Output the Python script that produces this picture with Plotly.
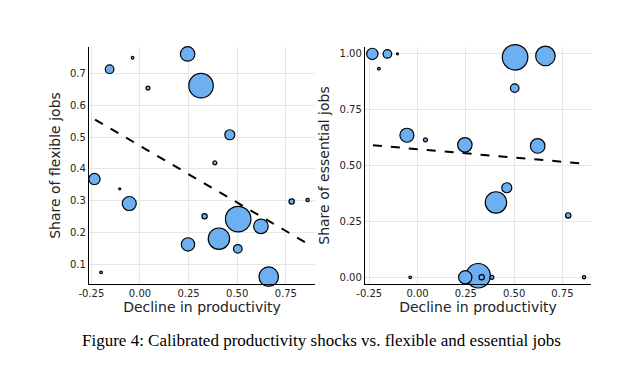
import plotly.graph_objects as go
from plotly.subplots import make_subplots

# Industry-level data (same industries in both panels)
decline = [0.245, -0.156, -0.038, 0.314, 0.041, 0.462, 0.385, -0.234, -0.104, -0.055,
           0.332, 0.505, 0.622, 0.780, 0.862, 0.247, 0.406, 0.503, 0.662, -0.200]
flexible = [0.763, 0.715, 0.751, 0.663, 0.655, 0.508, 0.419, 0.368, 0.337, 0.291,
            0.251, 0.242, 0.219, 0.297, 0.302, 0.162, 0.180, 0.148, 0.060, 0.074]
essential = [0.593, 1.000, 0.000, 0.007, 0.615, 0.401, 0.000, 1.000, 1.000, 0.636,
             0.000, 0.985, 0.588, 0.277, 0.000, 0.000, 0.335, 0.847, 0.991, 0.934]
weight = [14.5, 8.6, 2.6, 24.5, 4.0, 10.0, 4.0, 11.3, 2.0, 14.0,
          5.3, 25.5, 14.6, 5.3, 3.3, 13.3, 21.4, 8.6, 19.5, 2.6]

trend_x = [-0.231, 0.860]
flex_trend = [0.556, 0.165]
ess_trend = [0.591, 0.509]

x_ticks = [-0.25, 0.0, 0.25, 0.5, 0.75]
x_ticklabels = ["-0.25", "0.00", "0.25", "0.50", "0.75"]
flex_ticks = [0.1, 0.2, 0.3, 0.4, 0.5, 0.6, 0.7]
flex_ticklabels = ["0.1", "0.2", "0.3", "0.4", "0.5", "0.6", "0.7"]
ess_ticks = [0.0, 0.25, 0.5, 0.75, 1.0]
ess_ticklabels = ["0.00", "0.25", "0.50", "0.75", "1.00"]

caption = "Figure 4: Calibrated productivity shocks vs. flexible and essential jobs"

fill = "#6cb0f2"
W, H = 631, 381
OFF = 8  # page body margin

fig = make_subplots(rows=1, cols=2)

for col, yvals, trend in [(1, flexible, flex_trend), (2, essential, ess_trend)]:
    fig.add_trace(go.Scatter(
        x=decline, y=yvals, mode="markers",
        marker=dict(size=weight, color=fill, opacity=1,
                    line=dict(color="black", width=1.2)),
        showlegend=False, hoverinfo="skip", cliponaxis=False), row=1, col=col)
    fig.add_trace(go.Scatter(
        x=trend_x, y=trend, mode="lines",
        line=dict(color="black", width=2, dash="dash"),
        showlegend=False, hoverinfo="skip"), row=1, col=col)

axis_common = dict(
    showline=True, linecolor="black", linewidth=1.3, mirror=False,
    showgrid=True, gridcolor="#e6e6e6", gridwidth=1, automargin=False,
    zeroline=False, ticks="", tickfont=dict(family="DejaVu Sans", size=10, color="#222"),
)
title_font = dict(family="DejaVu Sans", size=14, color="#222")

def px_x(p):
    return (p - OFF) / W

def px_y(p):
    return 1 - (p - OFF) / H

fig.update_xaxes(**axis_common, range=[-0.262, 0.900], tickvals=x_ticks, ticktext=x_ticklabels,
                 title=dict(text="Decline in productivity", font=title_font, standoff=4))
fig.update_xaxes(domain=[px_x(89), px_x(315)], row=1, col=1)
fig.update_xaxes(domain=[px_x(365), px_x(591)], range=[-0.272, 0.898], row=1, col=2)

fig.update_yaxes(**axis_common)
fig.update_yaxes(range=[0.037, 0.785], tickvals=flex_ticks, ticktext=flex_ticklabels,
                 domain=[px_y(284), px_y(47)],
                 title=dict(text="Share of flexible jobs", font=title_font, standoff=6),
                 row=1, col=1)
fig.update_yaxes(range=[-0.030, 1.031], tickvals=ess_ticks, ticktext=ess_ticklabels,
                 domain=[px_y(284), px_y(47)],
                 title=dict(text="Share of essential jobs", font=title_font, standoff=6),
                 row=1, col=2)

fig.add_annotation(text=caption, xref="paper", yref="paper", x=px_x(321), y=px_y(340),
                   showarrow=False, xanchor="center", yanchor="middle",
                   font=dict(family="Liberation Serif", size=17, color="black"))

fig.update_layout(width=W, height=H, margin=dict(l=0, r=0, t=0, b=0, autoexpand=False),
                  paper_bgcolor="white", plot_bgcolor="white")

fig.write_html("out.html")
